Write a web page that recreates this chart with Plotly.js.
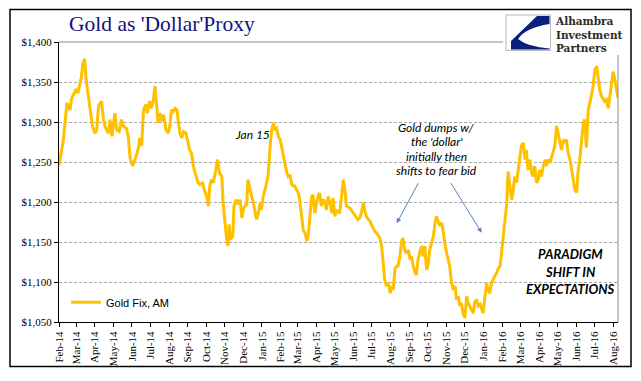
<!DOCTYPE html>
<html>
<head>
<meta charset="utf-8">
<script src="https://cdn.plot.ly/plotly-3.0.1.min.js"></script>
<style>
  html, body { margin: 0; padding: 0; background: #ffffff; }
  #chart { width: 641px; height: 381px; }
</style>
</head>
<body>
<div id="chart"></div>
<script>
// ---------------- DATA ----------------
const seriesName = 'Gold Fix, AM';

const dates = [
'2014-02-01','2014-02-05','2014-02-08','2014-02-11','2014-02-14','2014-02-19','2014-02-22','2014-02-26','2014-03-01','2014-03-04',
'2014-03-08','2014-03-10','2014-03-12','2014-03-15','2014-03-18','2014-03-21','2014-03-25','2014-03-28','2014-04-01','2014-04-04',
'2014-04-07','2014-04-12','2014-04-15','2014-04-19','2014-04-23','2014-04-26','2014-04-29','2014-05-01','2014-05-04','2014-05-07',
'2014-05-11','2014-05-15','2014-05-18','2014-05-23','2014-05-26','2014-05-29','2014-06-02','2014-06-06','2014-06-11','2014-06-14',
'2014-06-17','2014-06-20','2014-06-24','2014-06-26','2014-06-30','2014-07-03','2014-07-06','2014-07-09','2014-07-12','2014-07-14',
'2014-07-17','2014-07-20','2014-07-23','2014-07-27','2014-07-31','2014-08-03','2014-08-05','2014-08-08','2014-08-11','2014-08-14',
'2014-08-16','2014-08-19','2014-08-22','2014-08-25','2014-08-29','2014-08-31','2014-09-04','2014-09-07','2014-09-10','2014-09-13',
'2014-09-16','2014-09-18','2014-09-21','2014-09-25','2014-09-29','2014-10-02','2014-10-05','2014-10-07','2014-10-10','2014-10-13',
'2014-10-16','2014-10-20','2014-10-23','2014-10-27','2014-10-29','2014-11-01','2014-11-04','2014-11-06','2014-11-08','2014-11-10',
'2014-11-14','2014-11-16','2014-11-19','2014-11-23','2014-11-26','2014-11-29','2014-12-01','2014-12-04','2014-12-07','2014-12-09',
'2014-12-12','2014-12-15','2014-12-18','2014-12-21','2014-12-23','2014-12-26','2014-12-29','2014-12-31','2015-01-03','2015-01-06',
'2015-01-09','2015-01-11','2015-01-14','2015-01-17','2015-01-20','2015-01-22','2015-01-25','2015-01-28','2015-01-31','2015-02-02',
'2015-02-05','2015-02-08','2015-02-11','2015-02-13','2015-02-16','2015-02-19','2015-02-22','2015-02-24','2015-02-27','2015-03-02',
'2015-03-04','2015-03-07','2015-03-10','2015-03-13','2015-03-16','2015-03-18','2015-03-21','2015-03-24','2015-03-26','2015-03-29',
'2015-04-01','2015-04-04','2015-04-06','2015-04-09','2015-04-12','2015-04-15','2015-04-17','2015-04-20','2015-04-23','2015-04-26',
'2015-04-28','2015-05-01','2015-05-04','2015-05-06','2015-05-09','2015-05-12','2015-05-15','2015-05-18','2015-05-20','2015-05-26',
'2015-05-31','2015-06-03','2015-06-06','2015-06-08','2015-06-11','2015-06-14','2015-06-17','2015-06-19','2015-06-22','2015-06-25',
'2015-06-28','2015-06-30','2015-07-03','2015-07-06','2015-07-09','2015-07-11','2015-07-14','2015-07-17','2015-07-20','2015-07-22',
'2015-07-25','2015-07-28','2015-07-31','2015-08-02','2015-08-05','2015-08-08','2015-08-11','2015-08-13','2015-08-16','2015-08-19',
'2015-08-21','2015-08-24','2015-08-27','2015-08-30','2015-09-02','2015-09-04','2015-09-07','2015-09-10','2015-09-12','2015-09-15',
'2015-09-18','2015-09-21','2015-09-23','2015-09-26','2015-09-29','2015-10-02','2015-10-04','2015-10-07','2015-10-10','2015-10-13',
'2015-10-15','2015-10-18','2015-10-21','2015-10-24','2015-10-26','2015-10-29','2015-11-01','2015-11-04','2015-11-06','2015-11-09',
'2015-11-12','2015-11-15','2015-11-17','2015-11-20','2015-11-23','2015-11-25','2015-11-28','2015-12-01','2015-12-04','2015-12-06',
'2015-12-09','2015-12-12','2015-12-15','2015-12-17','2015-12-20','2015-12-23','2015-12-26','2015-12-28','2015-12-31','2016-01-03',
'2016-01-06','2016-01-08','2016-01-11','2016-01-14','2016-01-17','2016-01-19','2016-01-22','2016-01-25','2016-01-28','2016-01-30',
'2016-02-02','2016-02-05','2016-02-08','2016-02-10','2016-02-13','2016-02-16','2016-02-18','2016-02-21','2016-02-24','2016-02-27',
'2016-02-29','2016-03-03','2016-03-06','2016-03-09','2016-03-11','2016-03-14','2016-03-17','2016-03-20','2016-03-22','2016-03-25',
'2016-03-28','2016-03-31','2016-04-02','2016-04-05','2016-04-08','2016-04-11','2016-04-13','2016-04-16','2016-04-19','2016-04-22',
'2016-04-24','2016-04-27','2016-04-30','2016-05-03','2016-05-05','2016-05-08','2016-05-11','2016-05-13','2016-05-16','2016-05-19',
'2016-05-22','2016-05-25','2016-05-27','2016-05-30','2016-06-02','2016-06-04','2016-06-07','2016-06-10','2016-06-13','2016-06-15',
'2016-06-18','2016-06-21','2016-06-24','2016-06-26','2016-06-29','2016-07-02','2016-07-05','2016-07-07','2016-07-10','2016-07-13',
'2016-07-15','2016-07-18','2016-07-21','2016-07-24','2016-07-27','2016-07-29','2016-08-01','2016-08-04','2016-08-07','2016-08-09'
];

const goldFixAM = [
1246,1262,1277,1300,1324,1315,1330,1336,1341,1336,
1349,1357,1372,1379,1350,1332,1315,1295,1286,1290,
1320,1326,1303,1292,1286,1303,1282,1297,1311,1290,
1288,1303,1295,1292,1282,1255,1245,1253,1265,1280,
1270,1315,1322,1311,1326,1317,1326,1345,1320,1299,
1311,1301,1309,1290,1286,1299,1315,1313,1317,1315,
1303,1286,1280,1288,1286,1278,1265,1261,1245,1236,
1230,1224,1222,1224,1213,1207,1195,1220,1228,1224,
1236,1253,1236,1232,1199,1174,1153,1145,1172,1153,
1157,1195,1203,1197,1203,1180,1190,1195,1197,1228,
1215,1207,1199,1186,1178,1186,1199,1190,1207,1215,
1224,1232,1265,1290,1299,1290,1292,1282,1278,1270,
1257,1249,1236,1232,1234,1222,1220,1220,1215,1211,
1203,1182,1165,1161,1151,1157,1182,1207,1209,1186,
1199,1209,1211,1195,1203,1199,1190,1207,1199,1186,
1205,1182,1190,1188,1186,1207,1228,1211,1195,1192,
1186,1182,1180,1178,1180,1188,1199,1190,1182,1178,
1176,1172,1167,1163,1161,1159,1155,1145,1124,1103,
1095,1099,1086,1095,1090,1117,1120,1120,1132,1151,
1155,1140,1136,1140,1128,1132,1120,1111,1109,1128,
1138,1145,1132,1145,1115,1124,1140,1149,1157,1174,
1182,1176,1170,1174,1161,1149,1136,1128,1120,1099,
1090,1095,1078,1082,1070,1074,1061,1055,1082,1074,
1070,1065,1061,1074,1078,1070,1072,1068,1061,1082,
1099,1090,1086,1099,1105,1107,1111,1117,1120,1136,
1153,1182,1199,1238,1220,1203,1211,1232,1224,1240,
1253,1270,1274,1253,1265,1240,1253,1236,1232,1245,
1224,1228,1240,1232,1245,1253,1245,1253,1249,1257,
1261,1270,1295,1282,1278,1265,1278,1274,1278,1261,
1253,1240,1228,1215,1212,1236,1253,1278,1299,1303,
1268,1315,1324,1332,1345,1365,1370,1357,1340,1332,
1330,1326,1328,1317,1334,1349,1363,1352,1340,1330
];

const monthTicks = [
'2014-02-01','2014-03-01','2014-04-01','2014-05-01','2014-06-01','2014-07-01','2014-08-01','2014-09-01',
'2014-10-01','2014-11-01','2014-12-01','2015-01-01','2015-02-01','2015-03-01','2015-04-01','2015-05-01',
'2015-06-01','2015-07-01','2015-08-01','2015-09-01','2015-10-01','2015-11-01','2015-12-01','2016-01-01',
'2016-02-01','2016-03-01','2016-04-01','2016-05-01','2016-06-01','2016-07-01','2016-08-01'
];
const monthLabels = [
'Feb-14','Mar-14','Apr-14','May-14','Jun-14','Jul-14','Aug-14','Sep-14',
'Oct-14','Nov-14','Dec-14','Jan-15','Feb-15','Mar-15','Apr-15','May-15',
'Jun-15','Jul-15','Aug-15','Sep-15','Oct-15','Nov-15','Dec-15','Jan-16',
'Feb-16','Mar-16','Apr-16','May-16','Jun-16','Jul-16','Aug-16'
];

const yTicks = [1050, 1100, 1150, 1200, 1250, 1300, 1350, 1400];
const yLabels = ['$1,050','$1,100','$1,150','$1,200','$1,250','$1,300','$1,350','$1,400'];

const titleText = "Gold as 'Dollar'Proxy";
const logoLines = ['Alhambra', 'Investment', 'Partners'];
const noteJan = 'Jan 15';
const noteDumps = ['Gold dumps w/', "the 'dollar'", 'initially then', 'shifts to fear bid'];
const noteParadigm = ['PARADIGM', 'SHIFT IN', 'EXPECTATIONS'];

// ---------------- LAYOUT HELPERS (pixel -> paper) ----------------
const W = 641, H = 381;
const M = { l: 59, r: 23, t: 42, b: 59 };
const PW = W - M.l - M.r, PH = H - M.t - M.b;
const P = x => (x - M.l) / PW;
const Q = y => (H - M.b - y) / PH;
const pt = (x, y) => P(x).toFixed(5) + ',' + Q(y).toFixed(5);

const serif = 'Liberation Serif, Times New Roman, serif';
const sans = 'Liberation Sans, Arial, sans-serif';
const calib = 'Lato, Open Sans, sans-serif';

const trace = {
  type: 'scatter',
  mode: 'lines',
  name: seriesName,
  x: dates,
  y: goldFixAM,
  line: { color: '#FFC000', width: 3 },
  hoverinfo: 'skip'
};

const annotations = [];
annotations.push({
  xref: 'paper', yref: 'paper', x: P(67), y: Q(24), xanchor: 'left', yanchor: 'middle',
  text: titleText, showarrow: false,
  font: { family: serif, size: 21.5, color: '#13137a' }
});
annotations.push({
  xref: 'paper', yref: 'paper', x: P(553), y: Q(34), xanchor: 'left', yanchor: 'middle',
  align: 'left', text: logoLines.join('<br>'), showarrow: false,
  font: { family: 'DejaVu Serif, serif', size: 10.5, color: '#2a2a2a', weight: 'bold' }
});
annotations.push({
  xref: 'paper', yref: 'paper', x: P(252.5), y: Q(134.5), xanchor: 'center', yanchor: 'middle',
  text: noteJan, showarrow: false, font: { family: calib, size: 12, color: '#000', style: 'italic' }
});
const dumpsY = [127.3, 141.7, 156.2, 170.3];
noteDumps.forEach((t, i) => annotations.push({
  xref: 'paper', yref: 'paper', x: P(436.7), y: Q(dumpsY[i]), xanchor: 'center', yanchor: 'middle',
  text: t, showarrow: false, font: { family: calib, size: 12, color: '#000', style: 'italic' }
}));
const paraY = [254, 271.7, 289.3];
noteParadigm.forEach((t, i) => annotations.push({
  xref: 'paper', yref: 'paper', x: P(570), y: Q(paraY[i]), xanchor: 'center', yanchor: 'middle',
  text: t, showarrow: false, font: { family: calib, size: 13, color: '#000', style: 'italic', weight: 'bold' }
}));
// arrows
annotations.push({
  xref: 'paper', yref: 'paper', x: P(396.7), y: Q(223.3), text: '', showarrow: true,
  ax: 22.3, ay: -41.6, arrowhead: 2, arrowsize: 1, arrowwidth: 1, arrowcolor: '#5b84bf', standoff: 0
});
annotations.push({
  xref: 'paper', yref: 'paper', x: P(481.7), y: Q(232.7), text: '', showarrow: true,
  ax: -31.7, ay: -51, arrowhead: 2, arrowsize: 1, arrowwidth: 1, arrowcolor: '#5b84bf', standoff: 0
});

const shapes = [
  // plot-area top and right border (gray)
  { type: 'line', xref: 'paper', yref: 'paper', x0: 0, x1: 1, y0: 1, y1: 1, line: { color: '#8a8a8a', width: 1 } },
  { type: 'line', xref: 'paper', yref: 'paper', x0: 1, x1: 1, y0: 0, y1: 1, line: { color: '#8a8a8a', width: 1 } },
  // white backing for logo
  { type: 'rect', xref: 'paper', yref: 'paper', x0: P(503), x1: P(630), y0: Q(55), y1: Q(10.5),
    fillcolor: '#ffffff', line: { width: 0 } },
  // logo box
  { type: 'rect', xref: 'paper', yref: 'paper', x0: P(506), x1: P(550.5), y0: Q(50.5), y1: Q(15),
    fillcolor: '#ffffff', line: { color: '#b8b8b8', width: 1 } },
  { type: 'path', xref: 'paper', yref: 'paper',
    path: 'M' + pt(537, 16) + ' L' + pt(549.5, 16) + ' L' + pt(549.5, 24) +
          ' Q' + pt(525, 28) + ' ' + pt(518, 39) + ' Q' + pt(528, 47) + ' ' + pt(549.5, 48.5) +
          ' L' + pt(549.5, 49.5) + ' L' + pt(511, 49.5) + ' L' + pt(511, 41) + ' Z',
    fillcolor: '#0d1f7c', line: { width: 0 } },
  // outer frame
  { type: 'rect', xref: 'paper', yref: 'paper', x0: P(10), x1: P(631), y0: Q(366.5), y1: Q(9.5),
    fillcolor: 'rgba(0,0,0,0)', line: { color: '#000000', width: 1.5 } }
];

const layout = {
  width: W, height: H,
  margin: M,
  paper_bgcolor: '#ffffff',
  plot_bgcolor: '#ffffff',
  showlegend: true,
  legend: {
    x: P(66), y: Q(302.3), xanchor: 'left', yanchor: 'middle',
    bgcolor: 'rgba(0,0,0,0)', borderwidth: 0,
    font: { family: sans, size: 11, color: '#000' }
  },
  xaxis: {
    type: 'date',
    range: ['2014-01-31 23:00', '2016-08-09'],
    tickmode: 'array', tickvals: monthTicks, ticktext: monthLabels,
    tickangle: -90,
    ticks: 'outside', ticklen: 4, tickcolor: '#000', tickwidth: 1,
    showline: true, linecolor: '#000', linewidth: 1,
    showgrid: false, zeroline: false,
    tickfont: { family: serif, size: 11, color: '#000' }
  },
  yaxis: {
    range: [1050, 1400],
    tickmode: 'array', tickvals: yTicks, ticktext: yLabels,
    ticks: 'outside', ticklen: 4, tickcolor: '#000', tickwidth: 1,
    showline: true, linecolor: '#000', linewidth: 1,
    showgrid: true, gridcolor: '#a6a6a6', gridwidth: 1, griddash: '3px,2px',
    zeroline: false,
    tickfont: { family: serif, size: 11, color: '#000' }
  },
  annotations: annotations,
  shapes: shapes
};

Plotly.newPlot('chart', [trace], layout, { displayModeBar: false, staticPlot: true });
</script>
</body>
</html>
